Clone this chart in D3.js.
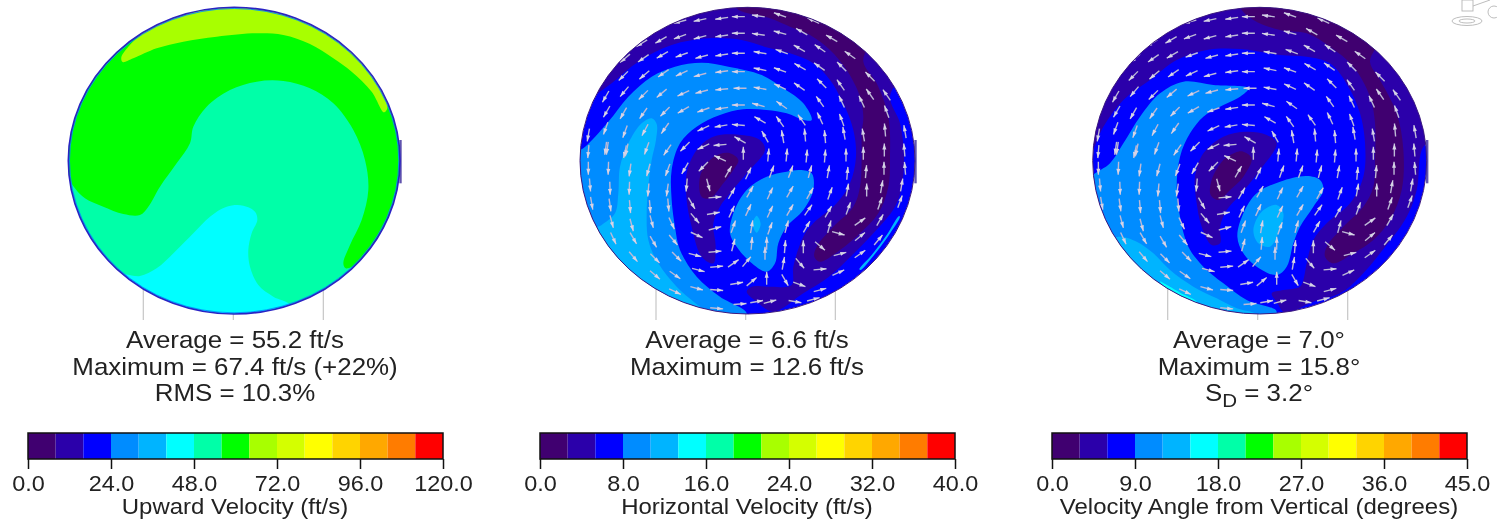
<!DOCTYPE html>
<html>
<head>
<meta charset="utf-8">
<script src="https://cdn.jsdelivr.net/npm/d3@7"></script>
<style>
html, body { margin: 0; padding: 0; background: #fff; overflow: hidden; }
svg { display: block; filter: blur(0.5px); }
text { font-family: "Liberation Sans", Arial, sans-serif; fill: #222; }
</style>
</head>
<body>
<div id="canvas"></div>
<script>
// ----------------------------------------------------------
// DATA -----------------------------------------------------
// ----------------------------------------------------------

var band_colors = ["#400070", "#2b00aa", "#0000ff", "#008cff", "#00b4ff", "#00ffff", "#00ffa8", "#00ff00",
  "#a8ff00", "#d4ff00", "#ffff00", "#ffd400", "#ffa800", "#ff7c00", "#ff0000"];

var ticks_upward = [0, 24, 48, 72, 96, 120];
var ticks_horizontal = [0, 8, 16, 24, 32, 40];
var ticks_angle = [0, 9, 18, 27, 36, 45];

var stats_upward = ["Average = 55.2 ft/s", "Maximum = 67.4 ft/s (+22%)", "RMS = 10.3%"];
var stats_horizontal = ["Average = 6.6 ft/s", "Maximum = 12.6 ft/s"];
var stats_angle = ["Average = 7.0\u00b0", "Maximum = 15.8\u00b0"];

// contour outlines, digitised duct coordinates (y runs downward), points past the wall get clipped
var up_green = [[40,505],[75,565],[105,595],[160,620],[220,642],[270,645],[295,620],[330,560],[380,490],[420,430],[430,380],[470,320],[540,270],[620,245],[700,243],[780,265],[850,310],[910,390],[945,480],[955,570],[935,660],[900,735],[880,790],[887,805],[925,790],[1000,720],[1090,480],[1000,180],[552,-10],[120,180],[20,440]];
var up_lime = [[218,186],[214,172],[235,140],[285,92],[380,30],[552,-5],[720,20],[880,110],[1000,250],[1012,325],[1002,337],[965,275],[905,215],[850,175],[780,132],[700,105],[620,100],[500,110],[400,125],[320,145],[250,175]];
var up_cyan = [[220,825],[270,828],[320,805],[380,750],[430,700],[480,650],[530,620],[580,617],[615,635],[622,660],[605,700],[595,750],[600,800],[625,855],[670,890],[720,915],[710,965],[552,985],[350,940],[215,850]];

var hor_second = [[25,420],[35,400],[65,300],[125,250],[205,185],[305,135],[415,115],[515,120],[600,145],[660,160],[730,190],[780,240],[820,310],[850,390],[858,470],[840,550],[800,610],[730,670],[700,710],[670,800],[665,855],[600,860],[545,860],[530,875],[560,905],[610,935],[700,880],[775,832],[840,772],[910,700],[975,620],[995,560],[1002,470],[990,370],[960,290],[1000,200],[800,50],[530,-10],[250,30],[60,180]];
var hor_purple = [[500,25],[600,55],[660,80],[720,105],[780,150],[830,210],[870,290],[880,350],[875,400],[875,470],[870,560],[850,620],[790,680],[740,740],[733,770],[750,785],[810,750],[870,700],[925,640],[955,560],[960,470],[955,350],[920,250],[880,185],[900,100],[650,-10],[500,-10]];
var hor_light = [[20,455],[40,445],[115,365],[175,290],[245,230],[315,200],[395,188],[475,200],[575,225],[640,265],[700,310],[725,360],[700,360],[650,340],[590,330],[520,328],[450,345],[380,380],[330,430],[305,510],[305,600],[315,680],[330,750],[380,830],[450,890],[530,940],[500,980],[300,940],[120,800],[10,620]];
var hor_sky = [[245,355],[260,372],[258,420],[245,480],[235,560],[230,640],[235,720],[265,790],[320,860],[390,920],[425,945],[300,950],[130,770],[70,690],[95,675],[135,640],[145,580],[150,500],[175,430],[215,370]];
var hor_swirl2 = [[515,405],[430,410],[380,450],[350,520],[350,600],[365,680],[395,770],[430,790],[437,740],[430,670],[450,620],[480,580],[530,520],[585,450],[570,420]];
var hor_swirl1 = [[480,460],[505,480],[490,510],[460,550],[420,595],[395,590],[390,530],[420,480],[450,462]];
var hor_isle = [[690,510],[725,520],[730,570],[700,630],[650,680],[625,730],[615,790],[590,815],[540,785],[500,740],[480,700],[490,640],[530,570],[590,530],[650,515]];
var hor_spot = [[560,647],[572,672],[560,698],[548,672]];
var hor_sliver = [[987,648],[950,705],[905,765],[868,808],[872,810],[910,768],[955,708],[990,650]];

var ang_second = [[30,465],[70,380],[130,300],[210,240],[290,180],[380,150],[480,147],[600,165],[680,170],[750,190],[805,260],[840,340],[855,430],[850,530],[810,610],[740,670],[700,720],[680,790],[670,840],[660,860],[610,870],[575,880],[590,905],[615,938],[700,905],[780,880],[840,830],[900,760],[980,650],[1010,570],[1025,450],[1060,400],[1000,200],[800,50],[530,-10],[250,30],[60,180]];
var ang_purple = [[480,22],[520,60],[600,90],[680,100],[750,140],[820,200],[870,290],[885,370],[885,470],[880,560],[850,620],[790,680],[740,740],[735,770],[760,790],[820,760],[880,720],[930,660],[965,570],[970,450],[950,340],[900,240],[870,185],[900,100],[650,-10],[480,-10]];
var ang_light = [[25,540],[90,490],[130,430],[180,350],[240,280],[310,245],[400,255],[505,265],[480,290],[420,320],[370,350],[330,400],[300,470],[290,560],[300,650],[325,740],[370,800],[430,850],[500,900],[590,935],[540,985],[300,940],[120,800],[15,640]];
var ang_sky = [[120,710],[170,725],[220,760],[270,810],[340,860],[410,895],[470,925],[530,945],[500,985],[300,950],[150,820],[95,720]];
var ang_cyan = [[240,845],[300,878],[350,905],[355,925],[290,890]];
var ang_swirl2 = [[500,395],[430,410],[370,460],[345,530],[350,610],[365,680],[395,735],[420,730],[420,680],[440,630],[480,585],[540,510],[590,430],[560,405]];
var ang_swirl1 = [[490,455],[515,475],[490,530],[450,570],[415,600],[392,585],[395,540],[430,480],[465,458]];
var ang_isle = [[680,528],[720,540],[730,570],[700,620],[660,680],[640,730],[620,800],[590,825],[530,800],[490,760],[472,710],[490,640],[530,580],[600,545]];
var ang_spot = [[590,615],[610,640],[595,700],[570,740],[535,730],[520,690],[545,635]];

// horizontal flow samples: x, y (duct coordinates), direction in degrees (0 = right, 90 = up)
var flow_samples = [
  [55,405,260],[107,290,240],[110,335,240],[107,385,250],[107,445,262],
  [160,228,225],[163,275,230],[160,340,240],[165,395,250],[165,455,258],
  [220,175,215],[223,225,220],[220,285,225],[220,340,235],[225,390,242],
  [273,120,210],[277,165,210],[280,220,215],[275,280,220],[285,335,225],[285,385,235],
  [215,130,212],[165,175,220],
  [330,65,195],[330,110,200],[335,165,200],[335,220,205],[340,280,205],[340,330,210],
  [390,60,192],[390,112,195],[395,170,195],[390,225,195],[395,275,195],[400,330,200],[400,385,205],
  [455,55,188],[455,108,188],[455,165,188],[455,215,188],[455,268,185],[455,325,188],[453,378,190],
  [505,50,180],[505,100,180],[505,160,180],[505,215,180],[510,265,180],[505,315,180],[505,375,175],
  [565,48,172],[565,103,172],[570,158,170],[570,208,168],[570,265,170],[565,315,165],[570,360,150],
  [630,45,160],[730,62,155],[785,115,150],[840,165,145],[900,230,135],[950,285,125],
  [630,98,165],[695,95,150],[750,145,145],[815,200,135],[900,283,125],[950,335,110],[1005,395,100],
  [635,155,160],[688,145,150],[748,200,145],[812,255,125],[875,305,115],[945,390,95],[1003,450,95],
  [630,210,160],[690,200,150],[755,250,135],[815,305,115],[880,405,100],[943,450,90],[1005,505,95],
  [630,260,155],[688,260,145],[750,305,125],[815,360,110],[888,515,85],[942,505,90],[995,555,80],
  [635,315,145],[695,360,125],[750,355,115],
  [630,365,125],[585,410,120],[638,410,100],[705,405,95],[765,410,95],[822,400,100],
  [55,455,265],[112,445,262],[170,450,258],[230,445,250],[292,450,235],[345,440,225],[400,440,205],[450,435,185],[510,420,150],
  [520,460,90],[595,465,85],[650,465,85],[710,468,85],[765,468,85],[828,465,90],[880,460,90],
  [55,505,270],[115,505,268],[180,510,262],[235,510,255],[293,510,250],[345,505,240],[400,500,225],[450,475,155],
  [475,515,60],[535,520,65],[605,515,70],[662,515,70],[720,515,75],[775,515,80],[832,520,85],
  [60,555,275],[120,565,272],[178,565,268],[235,570,265],[292,570,262],[350,555,265],[415,555,285],
  [485,580,60],[540,575,60],[600,580,65],[660,575,60],[720,580,60],[780,580,70],[832,570,80],[890,570,90],[935,560,80],
  [65,610,280],[120,615,278],[180,620,275],[240,620,275],[295,615,275],[365,610,300],[435,592,5],
  [485,635,65],[535,630,65],[600,635,65],[660,630,60],[715,630,55],[775,635,60],[835,625,70],[930,610,70],[990,605,70],
  [125,665,285],[185,675,285],[245,665,285],[305,670,295],[375,655,310],[430,640,10],[435,685,15],
  [490,680,70],[545,680,80],[600,685,70],[650,680,75],[710,680,60],[778,680,75],[870,665,35],[930,660,60],
  [130,715,295],[190,715,300],[250,725,300],[310,720,310],[380,705,335],
  [490,735,75],[545,730,85],[590,730,90],[645,740,85],[700,740,90],[750,738,320],[805,700,345],[870,710,40],[925,720,50],
  [190,770,310],[255,775,315],[320,770,315],[375,765,345],[435,755,5],[490,790,35],[530,785,50],[585,760,90],[640,790,80],[690,790,310],[810,762,15],[870,762,35],
  [255,825,320],[315,825,325],[385,810,345],[440,800,5],[590,835,90],[645,840,300],[688,853,340],[750,808,5],[805,818,25],
  [315,875,335],[380,865,345],[440,870,355],[500,850,10],[545,845,40],[750,870,15],
  [440,925,355],[510,912,5],[560,905,10],[600,905,15],[675,905,350],[730,898,15]
];

var panel_upward = {
  domain_max: 120, ticks: ticks_upward, stats: stats_upward, title: "Upward Velocity (ft/s)", base: 52,
  layers: [[60, up_green], [68, up_lime], [44, up_cyan]],
  arrows: [], ring: "#2a22c4", guides: [280, 550, 820], extent: [55, 1050], left: 68.3, width: 331.7, bar: 28
};
var panel_horizontal = {
  domain_max: 40, ticks: ticks_horizontal, stats: stats_horizontal, title: "Horizontal Velocity (ft/s)", base: 7,
  layers: [[4, hor_second], [1, hor_purple], [10, hor_light], [12, hor_sky], [12, hor_sliver], [4, hor_swirl2], [1, hor_swirl1], [10, hor_isle], [12, hor_spot]],
  arrows: flow_samples, ring: "#3d1a80", guides: [258, 527, 796], extent: [30, 1035], left: 580, width: 335, bar: 540
};
var panel_angle = {
  domain_max: 45, ticks: ticks_angle, stats: stats_angle, title: "Velocity Angle from Vertical (degrees)", base: 8,
  layers: [[5, ang_second], [1, ang_purple], [11, ang_light], [14, ang_sky], [17, ang_cyan], [5, ang_swirl2], [1, ang_swirl1], [11, ang_isle], [14, ang_spot]],
  arrows: flow_samples, ring: "#3d1a80", guides: [263, 533, 803], extent: [38, 1040], left: 1092.7, width: 334, bar: 1052
};

var panels = [panel_upward, panel_horizontal, panel_angle];

// ----------------------------------------------------------
// STRUCTURE ------------------------------------------------
// ----------------------------------------------------------

var container = d3.select("#canvas").append("svg")
  .attr("width", 1497)
  .attr("height", 521);

var defs = container.append("defs");

var disc_top = 7.3;
var disc_height = 306.7;
var bar_width = 415;
var text_stretch = 1.08;   // the source picture is wider than tall

var yScale = d3.scaleLinear()
  .domain([22, 942])
  .range([disc_top, disc_top + disc_height]);

function stretched(x, y) {
  return "translate(" + x + "," + y + ") scale(" + text_stretch + ",1)";
}

// ----------------------------------------------------------
// GFX ------------------------------------------------------
// ----------------------------------------------------------

panels.forEach(function (p, i) {
  var xScale = d3.scaleLinear()
    .domain(p.extent)
    .range([p.left, p.left + p.width]);

  var colorScale = d3.scaleQuantize()
    .domain([0, p.domain_max])
    .range(band_colors);

  var outline = d3.line()
    .x(function (d) { return xScale(d[0]); })
    .y(function (d) { return yScale(d[1]); })
    .curve(d3.curveCatmullRomClosed.alpha(0.5));

  var group = container.append("g").attr("class", "panel_" + i);

  var cx = p.left + p.width / 2;
  var cy = disc_top + disc_height / 2;

  // guide lines under the disc
  group.selectAll(".guide")
    .data(p.guides)
    .enter()
    .append("line")
    .attr("x1", function (d) { return xScale(d); })
    .attr("x2", function (d) { return xScale(d); })
    .attr("y1", yScale(500))
    .attr("y2", yScale(960))
    .style("stroke", "#c6c6c6")
    .style("stroke-width", 1.2);

  // tab on the right wall
  group.append("line")
    .attr("x1", p.left + p.width + 0.5)
    .attr("x2", p.left + p.width + 0.5)
    .attr("y1", yScale(420))
    .attr("y2", yScale(550))
    .style("stroke", "#3a2a9a")
    .style("stroke-width", 2.4)
    .style("opacity", 0.8);

  defs.append("clipPath")
    .attr("id", "disc_" + i)
    .append("ellipse")
    .attr("cx", cx)
    .attr("cy", cy)
    .attr("rx", p.width / 2)
    .attr("ry", disc_height / 2);

  var disc = group.append("g").attr("clip-path", "url(#disc_" + i + ")");

  disc.append("ellipse")
    .attr("cx", cx)
    .attr("cy", cy)
    .attr("rx", p.width / 2)
    .attr("ry", disc_height / 2)
    .style("fill", colorScale(p.base));

  disc.selectAll(".band")
    .data(p.layers)
    .enter()
    .append("path")
    .attr("d", function (d) { return outline(d[1]); })
    .style("fill", function (d) { return colorScale(d[0]); });

  // flow arrows
  var arrow = disc.selectAll(".arrow")
    .data(p.arrows)
    .enter()
    .append("g")
    .attr("transform", function (d) {
      return "translate(" + xScale(d[0]) + "," + yScale(d[1]) + ") rotate(" + (-d[2]) + ")";
    });

  arrow.append("line")
    .attr("x1", -6.5)
    .attr("x2", 6.5)
    .style("stroke", "#bdb9d6")
    .style("stroke-width", 1.4);

  arrow.append("path")
    .attr("d", "M6.5,0L0.5,-2L0.5,2Z")
    .style("fill", "#d6d3e6");

  // wall ring, the first panel also shows a lighter inner edge
  if (i === 0) {
    group.append("ellipse")
      .attr("cx", cx)
      .attr("cy", cy)
      .attr("rx", p.width / 2 - 1.2)
      .attr("ry", disc_height / 2 - 1.2)
      .style("fill", "none")
      .style("stroke", "#0090ff")
      .style("stroke-width", 0.9);
  }

  group.append("ellipse")
    .attr("cx", cx)
    .attr("cy", cy)
    .attr("rx", p.width / 2)
    .attr("ry", disc_height / 2)
    .style("fill", "none")
    .style("stroke", p.ring)
    .style("stroke-width", i === 0 ? 1.6 : 1);

  // statistics under the disc
  group.selectAll(".stat")
    .data(p.stats)
    .enter()
    .append("text")
    .attr("transform", function (d, k) { return stretched(p.bar + bar_width / 2 - 0.5, 348 + k * 26.5); })
    .attr("text-anchor", "middle")
    .style("font-size", "24px")
    .text(function (d) { return d; });

  if (i === 2) {
    var sd = group.append("text")
      .attr("transform", stretched(p.bar + bar_width / 2 - 0.5, 401))
      .attr("text-anchor", "middle")
      .style("font-size", "24px");
    sd.append("tspan").text("S");
    sd.append("tspan").attr("dy", 6).style("font-size", "19px").text("D");
    sd.append("tspan").attr("dy", -6).text(" = 3.2\u00b0");
  }

  // colour bar
  var barScale = d3.scaleLinear()
    .domain([0, p.domain_max])
    .range([p.bar, p.bar + bar_width]);

  var bar = group.append("g");

  bar.selectAll(".swatch")
    .data(colorScale.range())
    .enter()
    .append("rect")
    .attr("x", function (d) { return barScale(colorScale.invertExtent(d)[0]); })
    .attr("y", 433)
    .attr("width", function (d) {
      var e = colorScale.invertExtent(d);
      return barScale(e[1]) - barScale(e[0]);
    })
    .attr("height", 26)
    .style("fill", function (d) { return d; });

  bar.append("rect")
    .attr("x", p.bar)
    .attr("y", 433)
    .attr("width", bar_width)
    .attr("height", 26)
    .style("fill", "none")
    .style("stroke", "#111")
    .style("stroke-width", 1.5);

  var axis = d3.axisBottom(barScale)
    .tickValues(p.ticks)
    .tickFormat(d3.format(".1f"))
    .tickSize(10)
    .tickPadding(7);

  var axis_group = bar.append("g")
    .attr("transform", "translate(0,459)")
    .call(axis);

  axis_group.select(".domain").remove();
  axis_group.selectAll("line").style("stroke", "#111").style("stroke-width", 1.5);
  axis_group.selectAll("text")
    .attr("font-family", null)
    .attr("transform", "scale(" + text_stretch + ",1)")
    .style("font-size", "21.7px");

  bar.append("text")
    .attr("transform", stretched(p.bar + bar_width / 2 - 0.5, 514))
    .attr("text-anchor", "middle")
    .style("font-size", "22.2px")
    .text(p.title);
});

// ----------------------------------------------------------
// corner logo ----------------------------------------------
// ----------------------------------------------------------
var logo = container.append("g")
  .style("fill", "none")
  .style("stroke", "#b5b5b5")
  .style("stroke-width", 0.9);

logo.append("rect").attr("x", 1462).attr("y", 0).attr("width", 11).attr("height", 11);
logo.append("ellipse").attr("cx", 1467).attr("cy", 21).attr("rx", 15).attr("ry", 4.5);
logo.append("ellipse").attr("cx", 1467).attr("cy", 21).attr("rx", 8).attr("ry", 2);
logo.append("line").attr("x1", 1473).attr("y1", 6).attr("x2", 1490).attr("y2", 0);
logo.append("circle").attr("cx", 1494).attr("cy", 12).attr("r", 6);
</script>
</body>
</html>
